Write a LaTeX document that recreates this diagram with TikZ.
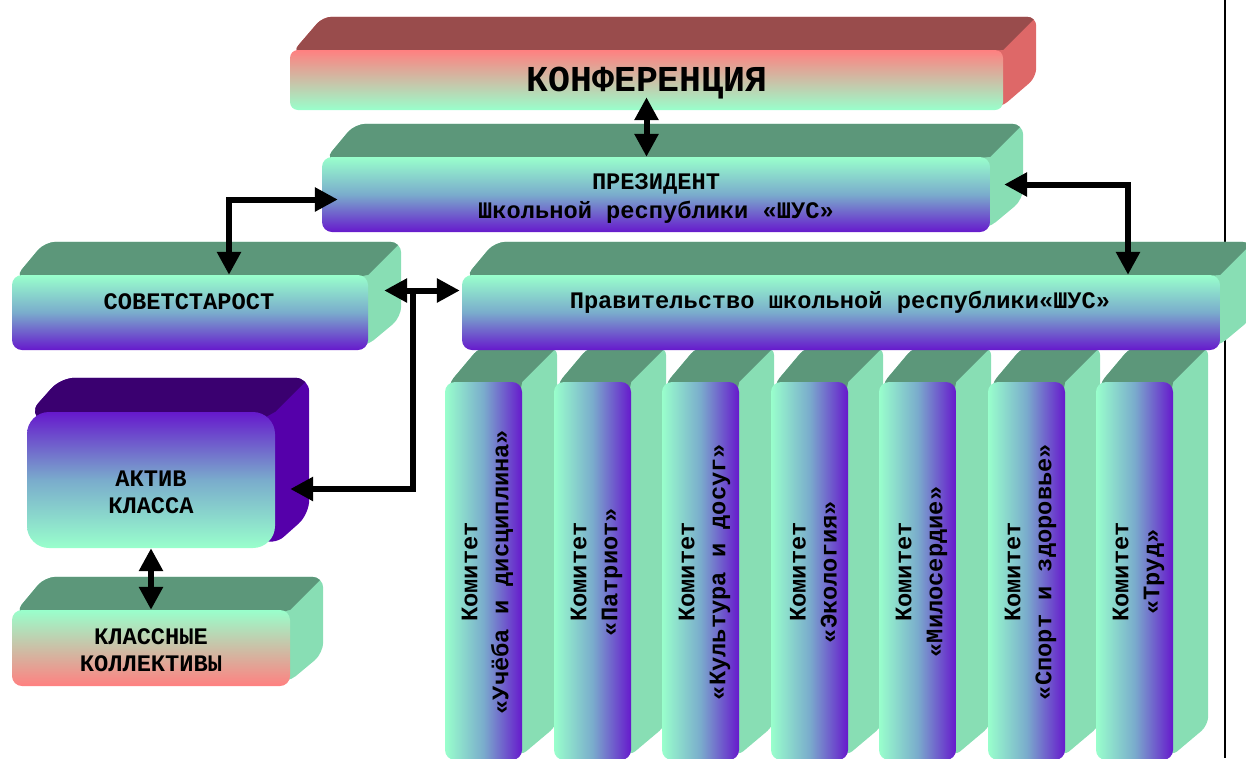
\documentclass[tikz,border=0pt]{standalone}
\usepackage{fontspec}
\newfontfamily\cour{Liberation Mono}
\usetikzlibrary{arrows.meta,backgrounds,calc}
\definecolor{mint}{RGB}{153,255,204}
\definecolor{vio}{RGB}{102,25,204}
\definecolor{midblue}{RGB}{122,172,204}
\definecolor{salmon}{RGB}{255,128,128}
\definecolor{tan}{RGB}{204,191,166}
\definecolor{topgreen}{RGB}{92,151,122}
\definecolor{sidegreen}{RGB}{136,222,180}
\definecolor{konftop}{RGB}{153,76,76}
\definecolor{konfside}{RGB}{222,104,104}
\definecolor{aktivtop}{RGB}{58,0,112}
\definecolor{aktivside}{RGB}{85,0,170}
\tikzset{
  front/.style={inner sep=0pt, rounded corners=10pt},
  gv/.style={front, top color=mint, bottom color=vio, middle color=midblue},
  vg/.style={front, top color=vio, bottom color=mint, middle color=midblue},
  sg/.style={front, top color=salmon, bottom color=mint, middle color=tan},
  gs/.style={front, top color=mint, bottom color=salmon, middle color=tan},
  colfront/.style={front, left color=mint, right color=vio, middle color=midblue},
  lbl/.style={font=\cour\bfseries\fontsize{23.7pt}{#1}\selectfont, align=center, inner sep=0pt, text=black},
  lbl/.default=29pt,
  conn/.style={line width=6pt, -{Triangle[length=23pt,width=23pt]}},
  dconn/.style={line width=6pt, {Triangle[length=23pt,width=23pt]}-{Triangle[length=23pt,width=23pt]}},
  frame/.style={line width=2pt, black}
}
% faces: node, depth, top colour, side colour, back corner radius, front corner inset
\newcommand\faces[6]{%
  \begin{scope}
  \path[clip, rounded corners=#5] ([shift={(#6,#6)}]#1.north west) -- ([shift={(#2,-#2)}]#1.north west)
     -- ([shift={(#2,-#2)}]#1.north east) -- ([shift={(#2,-#2)}]#1.south east)
     -- ([shift={(-#6,-#6)}]#1.south east) -- (#1.center) -- cycle;
  \fill[#4] ([shift={(-2,-#2-4)}]#1.north west) rectangle ([shift={(#2+4,2)}]#1.south east);
  \fill[#3] ([shift={(#6,#6)}]#1.north west) -- ([shift={(#2,-#2)}]#1.north west) -- ([shift={(#2,-#2)}]#1.north east) -- (#1.north east) -- (#1.center) -- cycle;
  \end{scope}
}
\begin{document}
\begin{tikzpicture}[x=1pt,y=-1pt]
\useasboundingbox (0,0) rectangle (1246,758);
\clip (0,0) rectangle (1246,758);

% committee columns
\foreach \x/\n in {445/c1,554/c2,662/c3,771/c4,879/c5,988/c6,1096/c7}{
  \node[colfront, minimum width=77pt, minimum height=378pt] (\n) at (\x+38.5,571) {};
}
% main boxes
\node[sg, rounded corners=8pt, minimum width=713pt, minimum height=60pt] (konf) at (646.5,80) {};
\node[gv, minimum width=668pt, minimum height=75pt] (pres) at (656,194.5) {};
\node[gv, minimum width=356pt, minimum height=75pt] (sovet) at (190,312.5) {};
\node[gv, minimum width=758pt, minimum height=75pt] (prav) at (841,312.5) {};
\node[vg, rounded corners=22pt, minimum width=248pt, minimum height=136pt] (aktiv) at (151,480) {};
\node[gs, minimum width=278pt, minimum height=76pt] (klass) at (151,648) {};

\begin{pgfonlayer}{background}
  \draw[frame] (1225,0) -- (1225,758);
  \foreach \n in {c1,c2,c3,c4,c5,c6,c7}{\faces{\n}{35}{topgreen}{sidegreen}{9pt}{3}}
  \faces{konf}{33}{konftop}{konfside}{9pt}{2.5}
  \faces{pres}{33}{topgreen}{sidegreen}{11pt}{3}
  \faces{sovet}{33}{topgreen}{sidegreen}{11pt}{3}
  \faces{prav}{33}{topgreen}{sidegreen}{11pt}{3}
  \faces{aktiv}{34}{aktivtop}{aktivside}{14pt}{2}
  \faces{klass}{33}{topgreen}{sidegreen}{11pt}{3}
\end{pgfonlayer}

% texts
\node[lbl, font=\cour\bfseries\fontsize{36.5pt}{40pt}\selectfont] (konf-t) at (647,83) {КОНФЕРЕНЦИЯ};
\node[lbl] (pres-t) at (656,199) {ПРЕЗИДЕНТ\\Школьной республики «ШУС»};
\node[lbl] (sovet-t) at (189,302) {СОВЕТСТАРОСТ};
\node[lbl] (prav-t) at (840,302) {Правительство школьной республики«ШУС»};
\node[lbl=27pt] (aktiv-t) at (151,492) {АКТИВ\\КЛАССА};
\node[lbl=27pt] (klass-t) at (151,650) {КЛАССНЫЕ\\КОЛЛЕКТИВЫ};
\foreach \n/\t in {c1/{«Учёба и дисциплина»},c2/{«Патриот»},c3/{«Культура и досуг»},c4/{«Экология»},c5/{«Милосердие»},c6/{«Спорт и здоровье»},c7/{«Труд»}}{
  \node[lbl=31pt, rotate=90] (\n-t) at ([xshift=4pt,yshift=-1pt]\n.center) {Комитет\\\t};
}

% connectors
\draw[dconn] ([yshift=13pt]konf.south) -- (konf.south |- pres.north);
\draw[dconn] ([xshift=16pt,yshift=-5pt]pres.west) -| ([xshift=39pt]sovet.north);
\draw[dconn] ([xshift=14pt,yshift=10pt]pres.east) -| ([xshift=287pt]prav.north);
\draw[dconn] ([xshift=16pt,yshift=22pt]sovet.east) -- ([xshift=-2pt,yshift=22pt]prav.west);
\coordinate (junc) at (413,290.5);
\draw[conn] (junc) |- ([xshift=15pt,yshift=-9pt]aktiv.east);
\draw[dconn] (aktiv.south) -- (klass.north);
\end{tikzpicture}
\end{document}
